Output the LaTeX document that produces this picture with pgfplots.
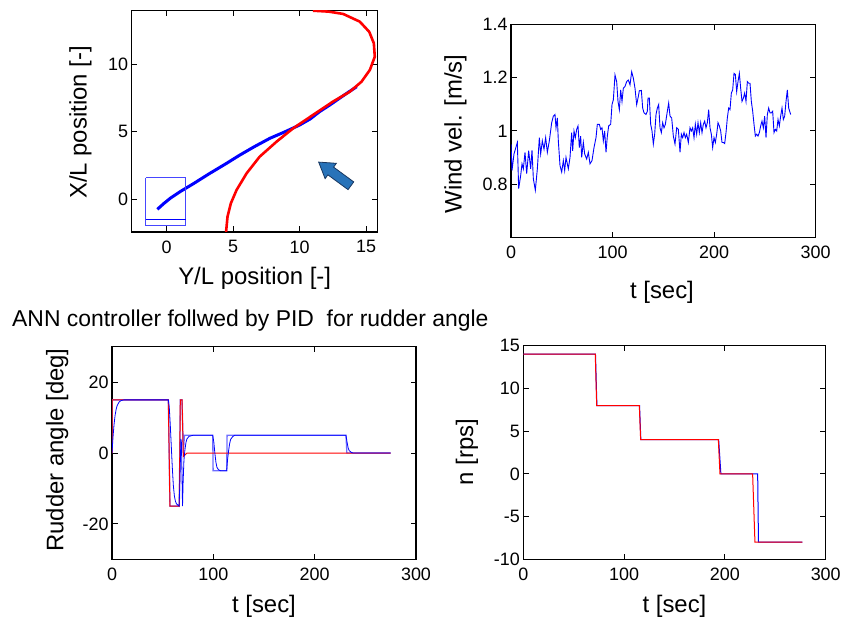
\documentclass[border=0pt]{standalone}
\usepackage{fontspec}
\setmainfont{Liberation Sans}
\usepackage{pgfplots}
\pgfplotsset{compat=1.18}

\pgfplotsset{mstyle/.style={
  scale only axis,
  axis line style={line width=1.2bp, black},
  tick align=inside,
  xtick pos=both, ytick pos=both,
  major tick length=5.5bp,
  every tick/.style={black, line width=1bp},
  tick label style={font=\fontsize{18}{20}\selectfont, /pgf/number format/assume math mode=true},
  xticklabel shift=5bp,
  clip=true,
}}

\begin{document}
\begin{tikzpicture}
\path[use as bounding box] (0,0) rectangle (849bp,620bp);

% ---------- top left: trajectory
\begin{axis}[mstyle, at={(131.7bp,388bp)}, anchor=south west,
  width=246bp, height=221.3bp,
  xmin=-2.63, xmax=15.88, ymin=-2.42, ymax=13.97,
  xtick={0,5,10,15}, ytick={0,5,10}]
\addplot[blue, line width=3bp, line join=round] coordinates {
(-0.7,-0.74)(-0.2,-0.3)(0.3,0.1)(1.0,0.56)(2.0,1.15)(3.26,1.93)(4.4,2.6)(5.51,3.28)(6.6,3.9)(7.77,4.52)(8.9,5.0)(10.0,5.5)(10.8,5.95)(11.5,6.49)(12.3,7.0)(13.0,7.48)(13.7,7.95)(14.3,8.34)};
\addplot[red, line width=2.6bp, line join=round] coordinates {
(4.46,-2.52)(4.58,-1.29)(4.83,-0.3)(5.26,0.69)(6.02,1.93)(7.0,3.16)(8.27,4.27)(9.52,5.26)(11.0,6.24)(12.5,7.23)(13.78,7.97)(14.66,8.71)(15.29,9.58)(15.66,10.56)(15.59,11.56)(15.24,12.41)(14.53,13.16)(13.28,13.73)(12.2,13.9)(11.0,13.97)};
\addplot[draw={rgb,255:red,70;green,70;blue,255}, line width=1.2bp] coordinates {(-1.58,1.6)(1.43,1.6)(1.43,-1.93)(-1.58,-1.93)(-1.58,1.6)};
\addplot[draw=blue, line width=1.2bp] coordinates {(-1.58,-1.48)(1.43,-1.48)};
\begin{scope}[shift={(axis cs:12.65,1.88)}, rotate=143.7]
\filldraw[draw={rgb,255:red,25;green,55;blue,95}, fill={rgb,255:red,40;green,115;blue,185}, line width=0.8bp, line join=miter]
 (-20bp,-4.8bp) -- (5bp,-4.8bp) -- (5bp,-9.5bp) -- (20bp,0bp) -- (5bp,9.5bp) -- (5bp,4.8bp) -- (-20bp,4.8bp) -- cycle;
\end{scope}
\end{axis}

% ---------- top right: wind
\begin{axis}[mstyle, at={(511bp,382.3bp)}, anchor=south west,
  width=304.7bp, height=213.4bp,
  xmin=0, xmax=300, ymin=0.6, ymax=1.4,
  xtick={0,100,200,300}, ytick={0.8,1,1.2,1.4}]
\addplot[blue, line width=0.9bp] coordinates {
(0,0.951)(0.98,0.852)(2.95,0.914)(6.24,0.957)(7.55,0.784)(9.52,0.833)(10.83,0.877)(12.14,0.858)(13.78,0.920)(15.43,0.840)
(17.39,0.926)(19.36,0.858)(20.68,0.928)(21.99,0.821)(23.96,0.778)(25.93,0.858)(27.90,0.975)(29.21,0.914)(30.85,0.963)(32.49,0.932)
(34.13,0.975)(35.77,0.920)(37.74,0.963)(40.04,1.031)(41.68,1.056)(43.32,1.062)(44.31,1.012)(45.62,1.049)(46.60,0.963)(48.25,0.870)
(49.89,0.846)(51.53,0.889)(52.84,0.852)(54.15,0.901)(56.45,0.858)(58.09,0.901)(59.73,0.994)(60.72,0.926)(62.03,1.000)(63.34,0.975)
(64.66,1.006)(65.97,1.019)(67.28,0.938)(68.59,0.981)(69.58,0.901)(71.22,0.957)(72.53,0.914)(74.50,0.895)(76.14,0.920)(77.78,0.877)
(79.75,0.889)(81.72,0.938)(83.69,0.975)(85.00,1.025)(86.97,1.025)(88.29,1.006)(89.60,1.012)(90.91,0.963)(92.22,1.000)(93.54,0.920)
(94.85,0.981)(96.16,1.019)(98.13,1.025)(99.44,1.099)(100.76,1.117)(102.40,1.210)(104.04,1.185)(105.35,1.111)(106.67,1.080)(107.98,1.154)
(109.29,1.111)(110.60,1.160)(112.24,1.167)(113.89,1.185)(115.53,1.191)(117.17,1.173)(118.81,1.222)(120.45,1.198)(122.09,1.160)(123.73,1.099)
(125.04,1.123)(126.36,1.151)(128.33,1.152)(129.64,1.086)(130.95,1.068)(132.92,1.062)(134.23,1.074)(134.89,1.123)(136.20,1.123)(137.52,1.025)
(138.83,1.000)(140.14,0.951)(141.45,0.988)(142.77,1.062)(144.08,1.086)(145.39,1.099)(146.71,1.012)(148.02,0.994)(149.33,1.031)(150.64,1.012)
(151.96,1.025)(153.93,1.074)(155.24,1.105)(156.55,1.056)(158.19,1.049)(159.83,0.981)(161.47,0.951)(163.12,1.012)(164.76,1.006)(166.40,0.920)
(167.71,0.988)(169.02,0.975)(170.34,0.994)(171.65,0.975)(172.96,0.988)(174.60,0.957)(176.24,1.012)(177.56,1.000)(178.87,1.012)(180.18,0.975)
(181.49,1.025)(182.81,0.988)(184.12,1.031)(185.43,0.994)(186.75,1.031)(188.06,0.994)(189.37,1.025)(190.68,1.037)(192.00,1.012)(193.31,1.031)
(194.62,1.080)(195.94,1.012)(197.25,0.988)(198.56,0.938)(199.87,0.975)(201.19,0.957)(202.50,0.988)(203.81,1.031)(205.13,1.019)(206.44,1.000)
(207.75,0.957)(209.06,0.957)(210.38,0.953)(211.69,0.994)(213.00,1.049)(214.31,1.086)(215.63,1.080)(216.94,1.142)(218.25,1.154)(219.57,1.216)
(220.88,1.212)(222.19,1.148)(223.50,1.185)(224.82,1.216)(226.13,1.160)(227.44,1.111)(228.76,1.123)(230.07,1.142)(231.38,1.111)(232.69,1.185)
(234.01,1.179)(235.32,1.179)(236.63,1.111)(237.95,1.074)(239.26,1.025)(240.57,0.981)(241.88,0.988)(243.20,0.981)(244.51,0.994)(245.82,1.019)
(247.13,1.037)(248.45,1.012)(249.76,1.056)(251.07,0.975)(252.39,1.062)(253.70,1.086)(255.01,1.068)(256.32,1.068)(257.64,1.074)(258.95,0.994)
(260.26,1.006)(261.58,1.000)(262.89,1.043)(264.20,1.019)(265.51,1.056)(266.83,1.086)(268.14,1.043)(269.45,1.056)(270.77,1.111)(272.08,1.154)
(273.39,1.086)(275.36,1.062)};
\end{axis}

% ---------- bottom left: rudder angle
\begin{axis}[mstyle, at={(112bp,60.7bp)}, anchor=south west,
  width=304bp, height=212.6bp,
  xmin=0, xmax=300, ymin=-30, ymax=30,
  xtick={0,100,200,300}, ytick={-20,0,20}]
\addplot[color={rgb,255:red,110;green,110;blue,255}, line width=1.3bp] coordinates {
(0,0)(0,15)(55.6,15)(57.2,-15)(66.4,-15)(67.4,15)(69.1,15)(70.4,0)(71.5,5)(99.4,5)(99.8,-5)(113.2,-5)(113.6,5)(230.9,5)(231.8,0)(275,0)};
\addplot[red, line width=1bp] coordinates {
(0,0)(0,15)(55.6,15)(57.2,-15)(66.4,-15)(67.4,15)(69.1,15)(70.4,-1)(74,0)(275,0)};
\addplot[blue, line width=0.8bp] coordinates {
(0,0)(1,4.5)(2,8)(3,10.5)(4,12.2)(5,13.3)(7,14.4)(9,14.8)(12,15)(55.6,15)(56.5,13)(57.5,8)(58.5,2)(59.5,-4)(60.5,-9)(61.5,-12)(62.5,-13.5)(63.5,-14.3)(65,-14.7)(66.2,-15)(66.8,-10)(67.5,-2)(68,4)(68.5,3)(69,-5)(69.6,-15)(70.2,-8)(71,-2)(72,1)(73,3)(74,4)(76,4.7)(80,5)(99.4,5)(100.5,3)(101.5,0)(102.5,-2.5)(103.5,-4)(105,-4.7)(107,-5)(113.2,-5)(114,-2)(115,0.5)(116,2.5)(117,3.8)(119,4.6)(121,5)(230.9,5)(232,3)(233,1.5)(234,0.7)(236,0.2)(238,0)(275,0)};
\end{axis}

% ---------- bottom right: n
\begin{axis}[mstyle, at={(523.3bp,60.7bp)}, anchor=south west,
  width=302.4bp, height=213.6bp,
  xmin=0, xmax=300, ymin=-10, ymax=15,
  xtick={0,100,200,300}, ytick={-10,-5,0,5,10,15}]
\addplot[blue, line width=1bp] coordinates {
(0,14)(71.6,14)(73,8)(115.3,8)(116.6,4)(193.8,4)(196,0)(232.5,0)(233.3,-8)(276.8,-8)};
\addplot[red, line width=1bp] coordinates {
(0,14)(71.4,14)(72.8,8)(115.1,8)(116.4,4)(193.5,4)(195.1,0)(227.5,0)(229.8,-8)(276.8,-8)};
\end{axis}

% ---------- labels
\begin{scope}[every node/.style={font=\fontsize{24}{28}\selectfont, inner sep=0pt}]
\node[anchor=base] at (254.7bp,335bp) {Y/L position [-]};
\node[anchor=base, rotate=90] at (86.7bp,497.5bp) {X/L position [-]};
\node[anchor=base] at (662bp,321bp) {t [sec]};
\node[anchor=base, rotate=90] at (461.7bp,486bp) {Wind vel. [m/s]};
\node[anchor=base west, font=\fontsize{23}{28}\selectfont] at (12bp,293.3bp) {ANN controller follwed by PID\ \ for rudder angle};
\node[anchor=base, rotate=90] at (63.3bp,170bp) {Rudder angle [deg]};
\node[anchor=base] at (264bp,8bp) {t [sec]};
\node[anchor=base, rotate=90] at (473bp,168bp) {n [rps]};
\node[anchor=base] at (674.5bp,8bp) {t [sec]};
\end{scope}
\end{tikzpicture}
\end{document}
